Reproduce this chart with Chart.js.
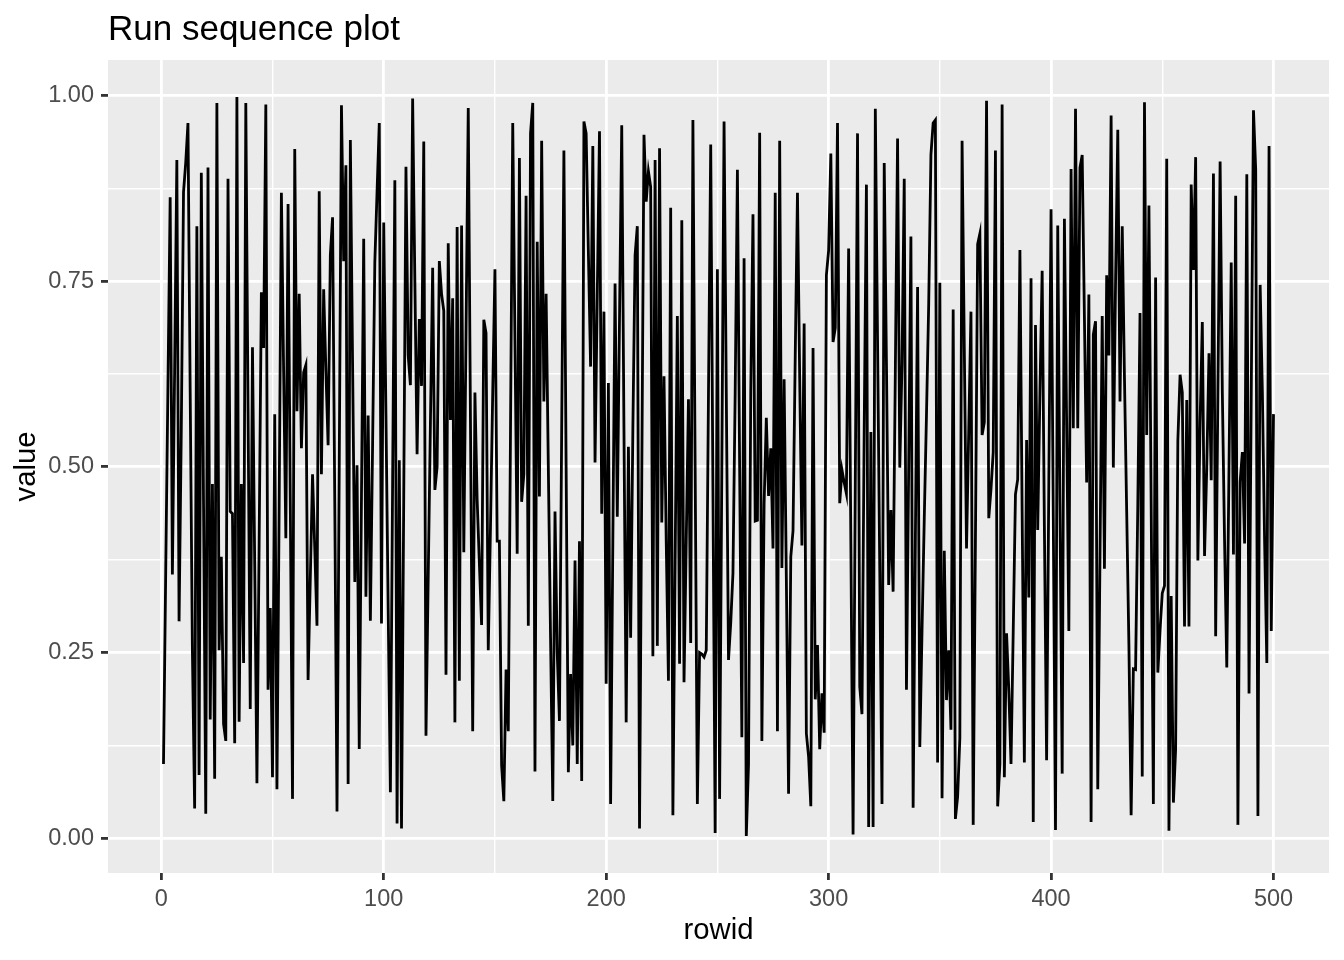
<!DOCTYPE html>
<html>
<head>
<meta charset="utf-8">
<title>Run sequence plot</title>
<script src="https://cdn.jsdelivr.net/npm/chart.js@4.4.1/dist/chart.umd.min.js"></script>
<style>
  html, body { margin: 0; padding: 0; background: #ffffff; }
  canvas { display: block; }
</style>
</head>
<body>
<canvas id="chart" width="1344" height="960"></canvas>
<script>
// values, one per rowid (1..500)
const values = [
  0.10, 0.36, 0.61, 0.863, 0.355, 0.63, 0.913, 0.292, 0.55, 0.87,
  0.91, 0.963, 0.6, 0.25, 0.04, 0.824, 0.085, 0.896, 0.45, 0.033,
  0.903, 0.16, 0.477, 0.08, 0.99, 0.253, 0.379, 0.154, 0.131, 0.888,
  0.44, 0.437, 0.128, 0.998, 0.157, 0.477, 0.236, 0.99, 0.58, 0.174,
  0.661, 0.37, 0.074, 0.4, 0.735, 0.66, 0.988, 0.2, 0.31, 0.082,
  0.571, 0.066, 0.45, 0.869, 0.63, 0.404, 0.854, 0.45, 0.053, 0.928,
  0.575, 0.733, 0.525, 0.627, 0.637, 0.213, 0.35, 0.49, 0.39, 0.286,
  0.871, 0.49, 0.739, 0.63, 0.529, 0.785, 0.836, 0.45, 0.036, 0.5,
  0.987, 0.777, 0.906, 0.073, 0.94, 0.64, 0.345, 0.502, 0.12, 0.46,
  0.807, 0.325, 0.569, 0.293, 0.53, 0.775, 0.87, 0.963, 0.289, 0.829,
  0.57, 0.31, 0.062, 0.48, 0.886, 0.02, 0.509, 0.013, 0.46, 0.904,
  0.65, 0.61, 0.996, 0.75, 0.517, 0.699, 0.609, 0.938, 0.138, 0.35,
  0.56, 0.768, 0.469, 0.50, 0.777, 0.733, 0.71, 0.22, 0.801, 0.563,
  0.727, 0.156, 0.823, 0.212, 0.825, 0.385, 0.68, 0.983, 0.56, 0.144,
  0.60, 0.456, 0.37, 0.287, 0.698, 0.68, 0.253, 0.42, 0.6, 0.766,
  0.40, 0.40, 0.098, 0.05, 0.227, 0.144, 0.55, 0.963, 0.67, 0.383,
  0.916, 0.453, 0.49, 0.865, 0.286, 0.949, 0.99, 0.09, 0.803, 0.46,
  0.939, 0.588, 0.733, 0.5, 0.27, 0.05, 0.44, 0.25, 0.158, 0.55,
  0.926, 0.5, 0.089, 0.221, 0.125, 0.374, 0.10, 0.40, 0.077, 0.965,
  0.949, 0.79, 0.635, 0.932, 0.506, 0.73, 0.952, 0.437, 0.709, 0.208,
  0.613, 0.046, 0.4, 0.747, 0.433, 0.7, 0.96, 0.55, 0.156, 0.527,
  0.27, 0.55, 0.785, 0.824, 0.013, 0.48, 0.947, 0.857, 0.898, 0.877,
  0.245, 0.913, 0.259, 0.929, 0.425, 0.622, 0.4, 0.212, 0.849, 0.031,
  0.37, 0.703, 0.235, 0.832, 0.21, 0.4, 0.591, 0.263, 0.967, 0.5,
  0.046, 0.25, 0.248, 0.244, 0.253, 0.6, 0.934, 0.47, 0.007, 0.766,
  0.053, 0.5, 0.965, 0.6, 0.24, 0.29, 0.357, 0.6, 0.9, 0.5,
  0.136, 0.781, 0.003, 0.10, 0.6, 0.84, 0.427, 0.428, 0.95, 0.131,
  0.45, 0.566, 0.461, 0.525, 0.39, 0.869, 0.144, 0.939, 0.364, 0.618,
  0.35, 0.06, 0.379, 0.414, 0.65, 0.869, 0.62, 0.394, 0.693, 0.141,
  0.11, 0.043, 0.66, 0.187, 0.26, 0.12, 0.195, 0.142, 0.758, 0.791,
  0.922, 0.668, 0.687, 0.963, 0.451, 0.496, 0.479, 0.464, 0.794, 0.4,
  0.005, 0.48, 0.949, 0.204, 0.167, 0.55, 0.88, 0.015, 0.547, 0.015,
  0.982, 0.67, 0.36, 0.046, 0.909, 0.64, 0.341, 0.442, 0.332, 0.63,
  0.942, 0.499, 0.64, 0.888, 0.20, 0.5, 0.81, 0.041, 0.4, 0.742,
  0.123, 0.28, 0.43, 0.57, 0.72, 0.92, 0.963, 0.967, 0.102, 0.748,
  0.054, 0.387, 0.186, 0.253, 0.146, 0.712, 0.026, 0.056, 0.135, 0.939,
  0.66, 0.39, 0.55, 0.709, 0.018, 0.40, 0.80, 0.814, 0.543, 0.56,
  0.993, 0.431, 0.47, 0.52, 0.926, 0.043, 0.10, 0.988, 0.082, 0.276,
  0.2, 0.10, 0.28, 0.463, 0.483, 0.792, 0.44, 0.102, 0.536, 0.324,
  0.754, 0.022, 0.691, 0.415, 0.6, 0.764, 0.42, 0.105, 0.48, 0.847,
  0.43, 0.011, 0.825, 0.45, 0.087, 0.834, 0.56, 0.279, 0.901, 0.552,
  0.982, 0.552, 0.903, 0.92, 0.7, 0.479, 0.732, 0.022, 0.678, 0.696,
  0.066, 0.38, 0.703, 0.363, 0.758, 0.65, 0.973, 0.499, 0.75, 0.954,
  0.588, 0.824, 0.62, 0.44, 0.26, 0.031, 0.228, 0.227, 0.45, 0.707,
  0.083, 0.991, 0.543, 0.852, 0.45, 0.046, 0.755, 0.223, 0.28, 0.33,
  0.34, 0.915, 0.01, 0.326, 0.048, 0.12, 0.535, 0.624, 0.6, 0.285,
  0.59, 0.285, 0.88, 0.765, 0.917, 0.374, 0.56, 0.695, 0.38, 0.5,
  0.653, 0.482, 0.895, 0.272, 0.6, 0.911, 0.6, 0.4, 0.23, 0.5,
  0.775, 0.382, 0.865, 0.018, 0.48, 0.52, 0.397, 0.894, 0.195, 0.6,
  0.98, 0.9, 0.03, 0.745, 0.6, 0.4, 0.236, 0.932, 0.279, 0.571
];

// axis breaks (major get a label and a tick mark, minor only a thin grid line)
const xMajorTicks = [0, 100, 200, 300, 400, 500];
const xMinorTicks = [50, 150, 250, 350, 450];
const yMajorTicks = [0, 0.25, 0.5, 0.75, 1];
const yMinorTicks = [0.125, 0.375, 0.625, 0.875];
const titleText = 'Run sequence plot';
const xTitle = 'rowid';
const yTitle = 'value';

Chart.defaults.font.family = '"Liberation Sans", Arial, Helvetica, sans-serif';
Chart.defaults.color = '#4d4d4d';

const isMajor = (list, v) => list.some(t => Math.abs(t - v) < 1e-9);

// ggplot-like panel and page background
const panelBg = {
  id: 'panelBg',
  beforeDraw(chart) {
    const {ctx, chartArea: a} = chart;
    ctx.save();
    ctx.fillStyle = '#ffffff';
    ctx.fillRect(0, 0, chart.width, chart.height);
    ctx.fillStyle = '#ebebeb';
    ctx.fillRect(a.left, a.top, a.right - a.left, a.bottom - a.top);
    ctx.restore();
  }
};

// left aligned plot title, like ggtitle()
const plotTitle = {
  id: 'plotTitle',
  afterDraw(chart) {
    const {ctx, chartArea: a} = chart;
    ctx.save();
    ctx.fillStyle = '#000000';
    ctx.font = '35px "Liberation Sans", Arial, sans-serif';
    ctx.textAlign = 'left';
    ctx.textBaseline = 'alphabetic';
    ctx.fillText(titleText, a.left, 40);
    ctx.restore();
  }
};

const gridOpts = (list) => ({
  color: '#ffffff',
  lineWidth: ctx => isMajor(list, ctx.tick.value) ? 2.8 : 1.4,
  tickColor: ctx => isMajor(list, ctx.tick.value) ? '#333333' : 'rgba(0,0,0,0)',
  tickWidth: 2.8,
  tickLength: 7,
  drawTicks: true
});

const setTicks = (major, minor) => scale => {
  scale.ticks = major.concat(minor).sort((a, b) => a - b).map(v => ({value: v}));
};

new Chart(document.getElementById('chart'), {
  type: 'line',
  data: {
    datasets: [{
      label: yTitle,
      data: values.map((v, i) => ({x: i + 1, y: v})),
      borderColor: '#000000',
      borderWidth: 2.8,
      pointRadius: 0,
      tension: 0,
      fill: false
    }]
  },
  options: {
    responsive: false,
    animation: false,
    devicePixelRatio: 1,
    layout: { padding: { top: 60, right: 15, left: 0, bottom: 0 } },
    plugins: {
      legend: { display: false },
      tooltip: { enabled: false }
    },
    scales: {
      x: {
        type: 'linear',
        min: -23.95,
        max: 524.95,
        afterBuildTicks: setTicks(xMajorTicks, xMinorTicks),
        afterFit: s => { s.height = 87; },
        border: { display: false },
        grid: gridOpts(xMajorTicks),
        ticks: {
          autoSkip: false,
          maxRotation: 0,
          padding: 5,
          color: '#4d4d4d',
          font: { size: 23.5 },
          callback: v => isMajor(xMajorTicks, v) ? String(v) : ''
        },
        title: {
          display: true,
          text: xTitle,
          color: '#000000',
          font: { size: 29.3, lineHeight: 1.2 },
          padding: { top: 0, bottom: 12 }
        }
      },
      y: {
        type: 'linear',
        min: -0.0468,
        max: 1.0478,
        afterBuildTicks: setTicks(yMajorTicks, yMinorTicks),
        afterFit: s => { s.width = 108; },
        border: { display: false },
        grid: gridOpts(yMajorTicks),
        ticks: {
          autoSkip: false,
          padding: 7,
          color: '#4d4d4d',
          font: { size: 23.5 },
          callback: v => isMajor(yMajorTicks, v) ? v.toFixed(2) : ''
        },
        title: {
          display: true,
          text: yTitle,
          color: '#000000',
          font: { size: 29.3, lineHeight: 1.2 },
          padding: { top: 9, bottom: 0 }
        }
      }
    }
  },
  plugins: [panelBg, plotTitle]
});
</script>
</body>
</html>
